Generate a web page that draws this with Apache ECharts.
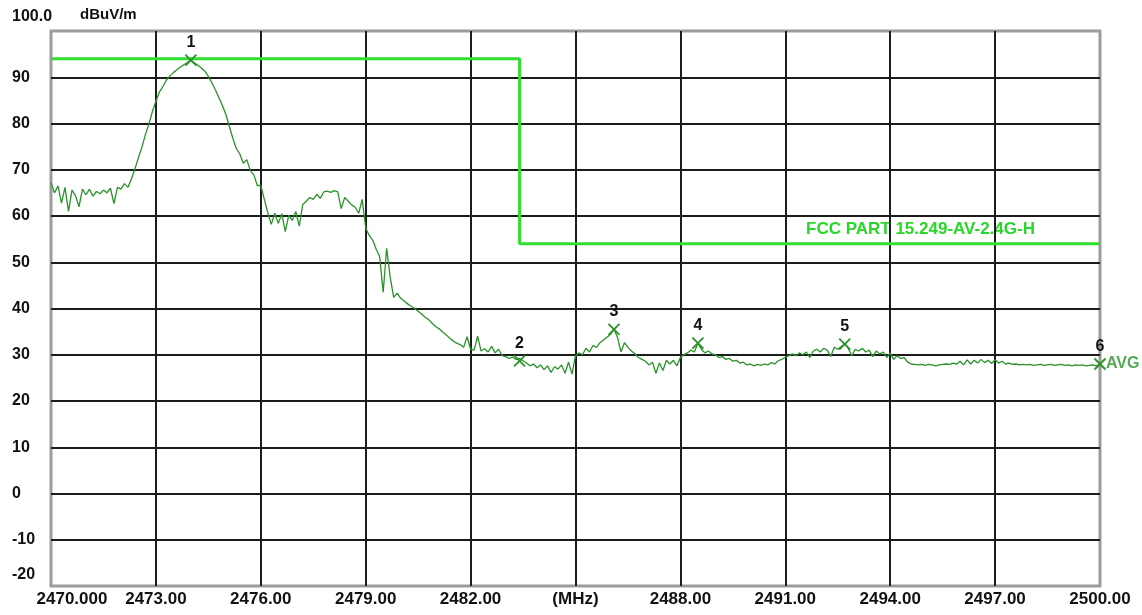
<!DOCTYPE html>
<html><head><meta charset="utf-8">
<script src="https://cdn.jsdelivr.net/npm/echarts@6/dist/echarts.min.js"></script>
<style>html,body{margin:0;padding:0;background:#fff}#c{width:1142px;height:615px}</style>
</head><body><div id="c"></div>
<script>
// ---- data ----
const freqStart = 2470.0;   // MHz, first trace point
const freqStep = 0.1;       // MHz between trace points
const traceLevels = [
  67.2,65.0,66.5,62.8,66.2,61.0,65.6,64.4,62.0,65.8,
  64.6,65.8,64.3,65.3,64.8,65.6,65.0,66.0,62.7,66.2,
  65.8,67.0,66.2,68.0,70.2,72.6,74.9,77.6,79.9,82.6,
  84.8,86.8,88.0,89.4,90.3,91.0,91.6,92.2,92.7,93.2,
  93.7,93.1,92.6,92.0,91.3,90.2,88.8,87.3,85.6,83.9,
  82.0,79.4,76.8,74.6,73.4,71.4,72.2,69.8,68.9,66.6,
  66.6,63.6,60.7,58.2,60.6,58.4,60.5,56.6,60.2,59.0,
  61.0,57.8,62.5,63.2,64.0,63.6,64.7,63.8,65.2,65.4,
  65.1,65.5,65.2,61.6,64.0,63.2,62.4,61.9,60.6,63.6,
  57.4,55.8,54.8,52.8,51.2,43.5,53.0,46.8,42.4,43.3,
  42.2,41.6,41.0,40.5,40.0,39.4,38.8,38.1,37.6,36.8,
  36.1,35.6,34.9,34.3,33.6,33.0,32.5,32.2,31.6,33.9,
  31.2,31.0,34.0,30.8,31.3,30.6,31.8,30.4,31.2,29.8,
  29.6,29.2,29.5,29.0,29.2,28.7,28.2,27.6,28.0,27.2,
  27.8,26.8,27.6,26.2,27.4,26.9,27.8,26.0,28.4,25.8,
  29.8,30.4,30.0,31.4,30.6,32.0,31.6,32.6,33.2,33.8,
  34.4,35.5,33.8,30.6,32.6,31.6,30.8,30.2,29.4,29.0,
  28.6,27.8,28.4,26.0,28.2,26.6,28.8,28.0,28.8,27.6,
  29.4,30.0,30.4,31.0,30.6,32.5,31.2,30.4,30.8,30.2,
  30.0,29.4,29.6,29.0,29.2,28.6,28.8,28.2,28.4,27.8,
  28.0,27.6,27.9,27.7,28.0,27.8,28.3,28.0,28.7,29.0,
  29.4,29.8,30.2,29.8,30.4,30.0,30.6,29.4,30.8,31.2,
  30.6,31.4,31.0,29.6,31.6,31.2,31.8,32.3,31.4,29.8,
  31.2,30.8,31.4,30.6,31.0,29.6,30.8,30.2,30.6,29.4,
  30.4,29.0,29.8,29.2,29.4,28.4,28.0,27.9,27.8,27.9,
  27.7,27.9,27.8,27.6,27.8,27.9,28.0,27.9,28.2,28.0,
  28.6,27.8,28.9,28.0,28.8,28.2,29.0,28.3,28.8,28.1,
  28.9,28.2,28.6,28.0,28.2,27.9,28.0,27.8,27.9,27.8,
  27.9,27.7,27.8,27.9,27.7,27.8,27.9,27.7,27.8,27.9,
  27.7,27.8,27.6,27.8,27.7,27.8,27.6,27.7,27.8,27.6,
  28.0
];
const limitFreqs = [2470.0, 2483.4, 2483.4, 2500.0];
const limitLevels = [94, 94, 54, 54];
const limitName = 'FCC PART 15.249-AV-2.4G-H';
const markerNames = ['1', '2', '3', '4', '5', '6'];
const markerFreqs = [2474.0, 2483.4, 2486.1, 2488.5, 2492.7, 2500.0];
const markerLevels = [93.7, 28.7, 35.5, 32.5, 32.3, 28.0];
const detectorName = 'AVG';
const xTickLabels = ['2470.000','2473.00','2476.00','2479.00','2482.00','(MHz)','2488.00','2491.00','2494.00','2497.00','2500.00'];
const yTopLabel = '100.0';
const yUnit = 'dBuV/m';

// ---- build ----
const FONT = '"Liberation Sans", Arial, sans-serif';
const traceData = traceLevels.map((v, i) => [+(freqStart + i * freqStep).toFixed(2), v]);
const limitData = limitFreqs.map((f, i) => [f, limitLevels[i]]);
const markerData = markerFreqs.map((f, i) => ({ value: [f, markerLevels[i]], name: markerNames[i] }));
const lastIdx = markerFreqs.length - 1;

const chart = echarts.init(document.getElementById('c'), null, { renderer: 'canvas' });
chart.setOption({
  animation: false,
  backgroundColor: '#ffffff',
  grid: { left: 51, right: 42, top: 31, bottom: 29, show: true, borderColor: '#9c9c9c', borderWidth: 3, backgroundColor: '#ffffff' },
  xAxis: {
    type: 'value', min: 2470, max: 2500, interval: 3,
    axisLine: { show: false }, axisTick: { show: false },
    splitLine: { show: true, showMinLine: false, showMaxLine: false, lineStyle: { color: '#1c1c1c', width: 2 } },
    axisLabel: {
      margin: 5, color: '#111', fontFamily: FONT, fontWeight: 'bold', fontSize: 17,
      formatter: v => {
        const s = xTickLabels[Math.round((v - 2470) / 3)];
        return v === 2470 ? '{first|' + s + '}' : s;
      },
      rich: { first: { padding: [0, 0, 0, 42], color: '#111', fontFamily: FONT, fontWeight: 'bold', fontSize: 17 } }
    }
  },
  yAxis: {
    type: 'value', min: -20, max: 100, interval: 10,
    axisLine: { show: false }, axisTick: { show: false },
    splitLine: { show: true, showMinLine: false, showMaxLine: false, lineStyle: { color: '#1c1c1c', width: 2 } },
    axisLabel: {
      margin: 39, align: 'left', color: '#111', fontFamily: FONT, fontWeight: 'bold', fontSize: 16,
      formatter: v => v === 100 ? '' : (v === -20 ? '{up|' + v + '}' : String(v)),
      rich: { up: { padding: [0, 0, 22, 0], color: '#111', fontFamily: FONT, fontWeight: 'bold', fontSize: 16 } }
    }
  },
  graphic: [
    { type: 'text', left: 12, top: 9, style: { text: yTopLabel, fill: '#111', font: 'bold 16px ' + FONT } },
    { type: 'text', left: 80, top: 7, style: { text: yUnit, fill: '#111', font: 'bold 15px ' + FONT } },
    { type: 'text', left: 806, top: 221, style: { text: limitName, fill: '#28d828', font: 'bold 17px ' + FONT } }
  ],
  series: [
    {
      type: 'line', data: limitData, symbol: 'none', z: 2,
      lineStyle: { color: '#2fe02f', width: 3 }
    },
    {
      type: 'line', data: traceData, symbol: 'none', z: 3,
      lineStyle: { color: '#2a922a', width: 1.3 }
    },
    {
      type: 'scatter', data: markerData, z: 4, clip: false,
      symbol: 'path://M0,0L10,10M10,0L0,10', symbolSize: 11,
      itemStyle: { color: 'rgba(0,0,0,0)', borderColor: '#2a922a', borderWidth: 1.8, opacity: 1 },
      label: {
        show: true, position: 'top', distance: 3, formatter: p => p.name,
        color: '#111', fontFamily: FONT, fontWeight: 'bold', fontSize: 16
      }
    },
    {
      type: 'scatter', z: 4, clip: false, symbolSize: 0,
      data: [{ value: [markerFreqs[lastIdx], markerLevels[lastIdx]], name: detectorName }],
      label: {
        show: true, position: 'right', distance: 6, formatter: p => p.name,
        color: '#2a922a', fontFamily: FONT, fontWeight: 'bold', fontSize: 16
      }
    }
  ]
});
</script>
</body></html>
